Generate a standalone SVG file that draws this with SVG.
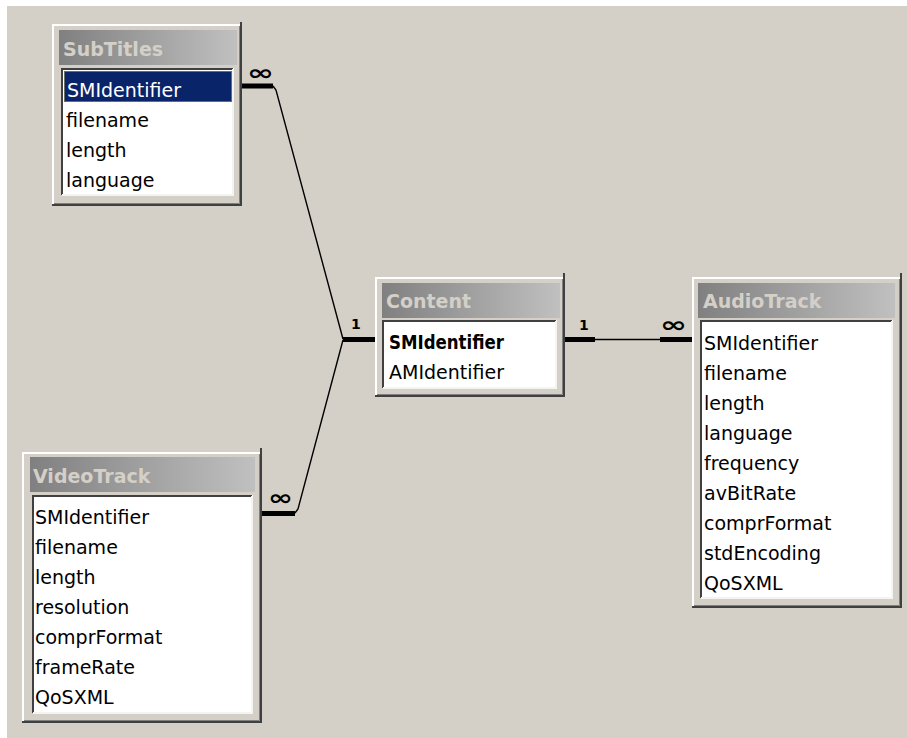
<svg xmlns="http://www.w3.org/2000/svg" width="907" height="738" viewBox="0 0 907 738">
<defs>
<linearGradient id="cap" x1="0" y1="0" x2="1" y2="0">
<stop offset="0" stop-color="#808080"/>
<stop offset="1" stop-color="#C0C0C0"/>
</linearGradient>
</defs>
<style>
.frame{fill:#D4D0C8}
.hi{fill:none;stroke:#FFFFFF;stroke-width:2}
.sh{fill:none;stroke:#404040;stroke-width:2}
.sh2{fill:none;stroke:#808080;stroke-width:1}
.cap{fill:url(#cap)}
.ttl{font-family:"DejaVu Sans",sans-serif;font-weight:bold;font-size:19px;fill:#D4D0C8}
.list{fill:#FFFFFF}
.ldk{fill:none;stroke:#404040;stroke-width:2}
.llt{fill:none;stroke:#F4F4F0;stroke-width:2}
.row{font-family:"DejaVu Sans",sans-serif;font-size:19px;fill:#000000}
.thick{fill:none;stroke:#000000;stroke-width:5}
.thin{fill:none;stroke:#000000;stroke-width:1.4}
.one{font-family:"DejaVu Sans",sans-serif;font-weight:bold;font-size:14px;fill:#000000}
.inf{font-family:"DejaVu Sans",sans-serif;font-weight:bold;font-size:21px;fill:#000000}
</style>
<rect x="0" y="0" width="907" height="738" fill="#FFFFFF"/>
<rect x="7" y="6" width="900" height="732" fill="#D4D0C8"/>

<g id="connectors">
<line class="thick" x1="242" y1="86" x2="273" y2="86"/>
<polyline class="thin" points="273,86 276,90 343,339"/>
<line class="thick" x1="343" y1="339.5" x2="375" y2="339.5"/>
<polyline class="thin" points="295,513 298,509 343,340"/>
<line class="thick" x1="262" y1="513.5" x2="295" y2="513.5"/>
<line class="thick" x1="565" y1="339.5" x2="595" y2="339.5"/>
<line class="thin" x1="595" y1="339.5" x2="660" y2="339.5"/>
<line class="thick" x1="660" y1="339.5" x2="692" y2="339.5"/>
<text class="inf" x="247" y="80" textLength="27" lengthAdjust="spacingAndGlyphs">∞</text>
<text class="inf" x="268" y="505" textLength="25" lengthAdjust="spacingAndGlyphs">∞</text>
<text class="inf" x="660" y="332" textLength="27" lengthAdjust="spacingAndGlyphs">∞</text>
<text class="one" x="351" y="329">1</text>
<text class="one" x="579" y="330">1</text>
</g>

<g id="SubTitles">
<rect class="frame" x="52" y="24" width="190" height="182"/>
<polyline class="hi" points="53,205 53,25 241,25"/>
<polyline class="sh" points="52,205 241,205 241,22"/>
<polyline class="sh2" points="54,203.5 239.5,203.5 239.5,26"/>
<rect class="cap" x="59" y="30" width="178" height="35"/>
<text class="ttl" x="63" y="56">SubTitles</text>
<rect class="list" x="61" y="68" width="173" height="127"/>
<polyline class="ldk" points="62,195 62,69 233,69"/>
<polyline class="llt" points="62,195 233,195 233,69"/>
<rect x="64" y="71" width="168" height="31" fill="#0A246A"/>
<rect x="64.5" y="71.5" width="167" height="30" fill="none" stroke="#C8B464" stroke-width="1" stroke-dasharray="1,1"/>
<text class="row" x="67" y="97" style="fill:#FFFFFF">SMIdentifier</text>
<text class="row" x="66" y="127">filename</text>
<text class="row" x="66" y="157">length</text>
<text class="row" x="66" y="187">language</text>
</g>

<g id="Content">
<rect class="frame" x="375" y="277" width="190" height="120"/>
<polyline class="hi" points="376,396 376,278 564,278"/>
<polyline class="sh" points="375,396 564,396 564,273"/>
<polyline class="sh2" points="377,394.5 562.5,394.5 562.5,279"/>
<rect class="cap" x="382" y="283" width="178" height="35"/>
<text class="ttl" x="386" y="308">Content</text>
<rect class="list" x="382" y="320" width="175" height="68"/>
<polyline class="ldk" points="383,388 383,321 556,321"/>
<polyline class="llt" points="383,388 556,388 556,321"/>
<text class="row" x="389" y="349" font-weight="bold" textLength="115" lengthAdjust="spacingAndGlyphs">SMIdentifier</text>
<text class="row" x="389" y="379">AMIdentifier</text>
</g>

<g id="AudioTrack">
<rect class="frame" x="692" y="277" width="210" height="331"/>
<polyline class="hi" points="693,607 693,278 901,278"/>
<polyline class="sh" points="692,607 901,607 901,273"/>
<polyline class="sh2" points="694,605.5 899.5,605.5 899.5,279"/>
<rect class="cap" x="698" y="283" width="197" height="35"/>
<text class="ttl" x="703" y="308">AudioTrack</text>
<rect class="list" x="700" y="320" width="193" height="278"/>
<polyline class="ldk" points="701,598 701,321 892,321"/>
<polyline class="llt" points="701,598 892,598 892,321"/>
<text class="row" x="704" y="350">SMIdentifier</text>
<text class="row" x="704" y="380">filename</text>
<text class="row" x="704" y="410">length</text>
<text class="row" x="704" y="440">language</text>
<text class="row" x="704" y="470">frequency</text>
<text class="row" x="704" y="500">avBitRate</text>
<text class="row" x="704" y="530">comprFormat</text>
<text class="row" x="704" y="560">stdEncoding</text>
<text class="row" x="704" y="590">QoSXML</text>
</g>

<g id="VideoTrack">
<rect class="frame" x="22" y="452" width="240" height="271"/>
<polyline class="hi" points="23,722 23,453 261,453"/>
<polyline class="sh" points="22,722 261,722 261,448"/>
<polyline class="sh2" points="24,720.5 259.5,720.5 259.5,454"/>
<rect class="cap" x="30" y="457" width="225" height="35"/>
<text class="ttl" x="33" y="483">VideoTrack</text>
<rect class="list" x="32" y="495" width="221" height="218"/>
<polyline class="ldk" points="33,713 33,496 252,496"/>
<polyline class="llt" points="33,713 252,713 252,496"/>
<text class="row" x="35" y="524">SMIdentifier</text>
<text class="row" x="35" y="554">filename</text>
<text class="row" x="35" y="584">length</text>
<text class="row" x="35" y="614">resolution</text>
<text class="row" x="35" y="644">comprFormat</text>
<text class="row" x="35" y="674">frameRate</text>
<text class="row" x="35" y="704">QoSXML</text>
</g>
</svg>
